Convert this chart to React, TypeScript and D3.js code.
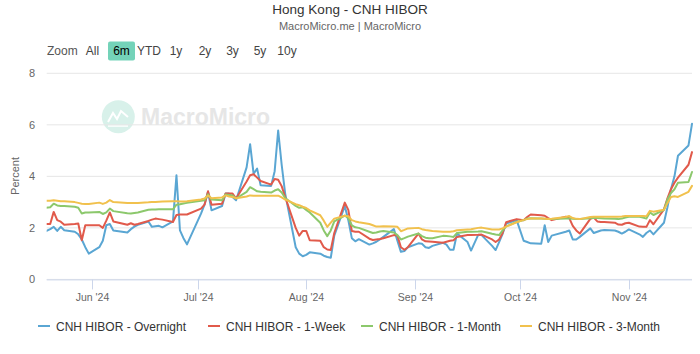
import React from "react";
import * as d3 from "d3";

const dates = [
  "2024-05-17","2024-05-20","2024-05-21","2024-05-22","2024-05-23","2024-05-24","2024-05-27","2024-05-28","2024-05-29","2024-05-30","2024-05-31",
  "2024-06-03","2024-06-04","2024-06-05","2024-06-06","2024-06-07","2024-06-11","2024-06-12","2024-06-13","2024-06-14","2024-06-17","2024-06-18","2024-06-19","2024-06-20","2024-06-21","2024-06-24","2024-06-25","2024-06-26","2024-06-27","2024-06-28",
  "2024-07-02","2024-07-03","2024-07-04","2024-07-05","2024-07-08","2024-07-09","2024-07-10","2024-07-11","2024-07-12","2024-07-15","2024-07-16","2024-07-17","2024-07-18","2024-07-19","2024-07-22","2024-07-23","2024-07-24","2024-07-25","2024-07-26","2024-07-29","2024-07-30","2024-07-31",
  "2024-08-01","2024-08-02","2024-08-05","2024-08-06","2024-08-07","2024-08-08","2024-08-09","2024-08-12","2024-08-13","2024-08-14","2024-08-15","2024-08-16","2024-08-19","2024-08-20","2024-08-21","2024-08-22","2024-08-23","2024-08-26","2024-08-27","2024-08-28","2024-08-29","2024-08-30",
  "2024-09-02","2024-09-03","2024-09-04","2024-09-05","2024-09-06","2024-09-09","2024-09-10","2024-09-11","2024-09-12","2024-09-13","2024-09-16","2024-09-17","2024-09-19","2024-09-20","2024-09-23","2024-09-24","2024-09-25","2024-09-26","2024-09-27","2024-09-30",
  "2024-10-02","2024-10-03","2024-10-04","2024-10-07","2024-10-08","2024-10-09","2024-10-10","2024-10-14","2024-10-15","2024-10-16","2024-10-17","2024-10-18","2024-10-21","2024-10-22","2024-10-23","2024-10-24","2024-10-25","2024-10-28","2024-10-29","2024-10-30","2024-10-31",
  "2024-11-01","2024-11-04","2024-11-05","2024-11-06","2024-11-07","2024-11-08","2024-11-11","2024-11-12","2024-11-13","2024-11-14","2024-11-15","2024-11-18","2024-11-19",
];

const overnight = [
  1.75,1.95,2.04,1.88,2.04,1.91,1.85,1.75,1.55,1.25,1.0,
  1.25,1.5,2.1,2.15,1.9,1.82,1.95,2.05,2.12,2.25,2.04,2.06,2.08,2.02,2.25,4.04,1.9,1.6,1.36,
  2.55,2.9,3.4,2.68,2.85,3.33,3.33,3.2,3.07,4.35,5.25,4.1,4.3,3.65,3.63,4.2,5.78,4.45,3.33,1.25,1.0,0.9,
  0.95,1.05,1.0,0.92,0.87,0.84,1.7,2.85,2.3,1.6,1.48,1.56,1.35,1.4,1.46,1.55,1.65,1.95,1.5,1.07,1.1,1.25,
  1.4,1.38,1.25,1.22,1.3,1.42,1.35,1.15,1.15,1.78,1.45,1.12,1.72,1.72,1.3,1.14,1.45,1.77,2.17,2.3,
  1.5,1.45,1.4,1.38,2.1,1.45,1.7,1.85,1.9,1.55,1.55,1.65,1.98,1.8,1.85,1.9,1.92,1.9,1.85,1.78,1.85,
  1.94,1.75,1.65,1.8,1.9,1.75,2.2,2.8,3.5,4.0,4.8,5.2,6.04,
];

const oneWeek = [
  2.15,2.15,2.62,2.3,2.24,2.12,2.15,2.17,1.52,2.1,2.1,
  2.1,2.0,2.28,2.6,2.25,2.12,2.18,2.12,2.15,2.27,2.32,2.36,2.34,2.32,2.23,2.5,2.52,2.52,2.52,
  2.75,2.9,3.42,2.9,2.94,3.33,3.33,3.33,3.14,3.8,4.04,4.08,3.95,3.82,3.68,3.9,3.87,3.62,3.2,2.0,1.7,1.88,
  1.88,1.52,1.5,1.25,1.16,1.14,1.8,2.98,2.7,1.88,1.85,1.85,1.58,1.53,1.55,1.57,1.6,1.72,1.7,1.25,1.15,1.25,
  1.78,1.55,1.48,1.47,1.46,1.42,1.46,1.5,1.52,1.65,1.72,1.72,1.73,1.74,1.55,1.45,1.55,1.8,2.22,2.34,
  2.3,2.42,2.52,2.49,2.47,2.38,2.3,2.43,2.38,2.08,1.9,1.78,2.35,2.4,2.25,2.23,2.23,2.2,2.13,2.12,2.18,
  2.2,2.05,2.04,2.04,2.3,2.14,2.72,3.15,3.5,3.75,3.95,4.45,4.94,
];

const oneMonth = [
  2.75,2.8,2.94,2.87,2.85,2.85,2.82,2.78,2.56,2.6,2.6,
  2.62,2.54,2.6,2.75,2.65,2.57,2.56,2.58,2.6,2.7,2.71,2.71,2.72,2.72,2.72,2.9,2.92,2.95,2.97,
  3.05,3.07,3.3,3.1,3.07,3.3,3.28,3.26,3.14,3.4,3.58,3.5,3.42,3.4,3.37,3.45,3.5,3.37,3.16,2.85,2.78,2.8,
  2.7,2.6,2.2,1.9,1.68,1.9,2.25,2.48,2.38,2.1,2.02,2.0,1.85,1.8,1.82,1.86,1.88,1.82,1.72,1.55,1.6,1.66,
  1.78,1.68,1.62,1.6,1.6,1.69,1.68,1.67,1.65,1.8,1.85,1.85,1.86,1.87,1.77,1.74,1.72,1.9,2.06,2.23,
  2.3,2.36,2.37,2.36,2.35,2.34,2.34,2.36,2.36,2.35,2.34,2.34,2.37,2.39,2.38,2.37,2.36,2.35,2.34,2.36,2.4,
  2.43,2.43,2.4,2.36,2.6,2.5,2.7,3.1,3.35,3.5,3.75,3.78,4.17,
];

const threeMonth = [
  3.05,3.05,3.07,3.05,3.03,3.03,3.0,2.97,2.94,2.93,2.93,
  2.98,2.93,2.98,3.08,3.0,2.97,2.97,2.97,2.97,2.99,3.0,3.0,3.01,3.02,3.03,3.03,3.02,3.02,3.03,
  3.1,3.14,3.26,3.15,3.18,3.26,3.22,3.2,3.15,3.22,3.26,3.25,3.25,3.25,3.25,3.25,3.25,3.18,3.1,2.92,2.88,2.82,
  2.77,2.68,2.49,2.28,2.04,2.2,2.36,2.47,2.45,2.3,2.25,2.22,2.15,2.1,2.05,2.05,2.06,2.05,2.04,1.87,1.92,1.98,
  2.0,1.95,1.92,1.9,1.88,1.85,1.85,1.85,1.87,1.91,1.94,1.95,2.0,2.01,1.94,1.94,1.94,1.98,2.05,2.22,
  2.31,2.34,2.36,2.36,2.35,2.34,2.35,2.42,2.46,2.38,2.35,2.34,2.42,2.43,2.43,2.43,2.43,2.43,2.43,2.44,2.46,
  2.46,2.46,2.46,2.45,2.66,2.63,2.7,2.96,3.2,3.23,3.2,3.4,3.63,
];

const seriesNames = ["CNH HIBOR - Overnight", "CNH HIBOR - 1-Week", "CNH HIBOR - 1-Month", "CNH HIBOR - 3-Month"];
const seriesColors = ["#5aa6d3", "#e15a4b", "#8cc86c", "#f1c14d"];
const yTicks = [0, 2, 4, 6, 8];
const xTickDates = ["2024-06-01", "2024-07-01", "2024-08-01", "2024-09-01", "2024-10-01", "2024-11-01"];
const rangeButtons = ["All", "6m", "YTD", "1y", "2y", "3y", "5y", "10y"];
const buttonCenters = [92.5, 121.5, 149, 176, 205, 232.5, 260, 287];

const W = 700, H = 354;
const plotLeft = 46.7, plotRight = 692, plotTop = 73.3, plotBottom = 279.4;
const font = "'Liberation Sans', Arial, Helvetica, sans-serif";

export default function App() {
  const parse = d3.timeParse("%Y-%m-%d");
  const xs = dates.map((d) => parse(d) as Date);
  const x = d3.scaleTime().domain([parse("2024-05-19") as Date, parse("2024-11-19") as Date]).range([plotLeft, plotRight]);
  const y = d3.scaleLinear().domain([0, 8]).range([plotBottom, plotTop]);
  const allSeries = [overnight, oneWeek, oneMonth, threeMonth];
  const line = d3.line<number>().x((_, i) => x(xs[i])).y((v) => y(v));
  const fmt = d3.timeFormat("%b '%y");
  const legendX = [38, 208, 361, 520];

  return (
    <svg width={W} height={H} style={{ position: "absolute", left: 0, top: 0, background: "#fff" }} fontFamily={font}>
      <rect x={0} y={0} width={W} height={H} fill="#fff" />
      <defs>
        <clipPath id="plotclip">
          <rect x={plotLeft} y={plotTop - 20} width={plotRight - plotLeft + 1} height={plotBottom - plotTop + 40} />
        </clipPath>
      </defs>
      <text x={350} y={14} textAnchor="middle" fontSize={13.5} fill="#333">Hong Kong - CNH HIBOR</text>
      <text x={350} y={29.5} textAnchor="middle" fontSize={11} fill="#666">MacroMicro.me | MacroMicro</text>

      <text x={47} y={55} fontSize={12} fill="#555">Zoom</text>
      <rect x={108} y={41.5} width={27} height={19} rx={2} fill="#74d3b9" />
      {rangeButtons.map((b, i) => (
        <text key={b} x={buttonCenters[i]} y={55} textAnchor="middle" fontSize={12} fill={b === "6m" ? "#000" : "#444"}>{b}</text>
      ))}

      {/* watermark */}
      <circle cx={118.3} cy={116.7} r={16.5} fill="#d8f1ea" />
      <path d="M108,122 L113,113 L117,119 L121,111 L128,117" fill="none" stroke="#fff" strokeWidth={2} />
      <path d="M108,126 L128,126" fill="none" stroke="#fff" strokeWidth={1.5} />
      <text x={141} y={125} fontSize={23} fontWeight="bold" fill="#e6e6e6">MacroMicro</text>

      {yTicks.map((t) => (
        <g key={t}>
          <line x1={plotLeft} x2={plotRight} y1={y(t)} y2={y(t)} stroke="#e6e6e6" strokeWidth={1} />
          <text x={35} y={y(t) + 4} textAnchor="end" fontSize={11} fill="#666">{t}</text>
        </g>
      ))}
      <line x1={plotLeft} x2={plotRight} y1={plotBottom + 0.5} y2={plotBottom + 0.5} stroke="#ccd6eb" strokeWidth={1} />
      {xTickDates.map((d) => {
        const px = Math.round(x(parse(d) as Date)) + 0.5;
        return (
          <g key={d}>
            <line x1={px} x2={px} y1={plotBottom} y2={plotBottom + 10} stroke="#ccd6eb" strokeWidth={1} />
            <text x={px} y={301} textAnchor="middle" fontSize={10.5} fill="#666">{fmt(parse(d) as Date)}</text>
          </g>
        );
      })}
      <text transform={`translate(19,176) rotate(-90)`} textAnchor="middle" fontSize={11} fill="#666">Percent</text>

      <g clipPath="url(#plotclip)">
        {allSeries.map((s, i) => (
          <path key={i} d={line(s) || ""} fill="none" stroke={seriesColors[i]} strokeWidth={2} strokeLinejoin="round" strokeLinecap="round" />
        ))}
      </g>

      {seriesNames.map((n, i) => (
        <g key={n}>
          <line x1={legendX[i]} x2={legendX[i] + 12} y1={326} y2={326} stroke={seriesColors[i]} strokeWidth={2} />
          <text x={legendX[i] + 18} y={330.5} fontSize={12} fill="#333">{n}</text>
        </g>
      ))}
    </svg>
  );
}
